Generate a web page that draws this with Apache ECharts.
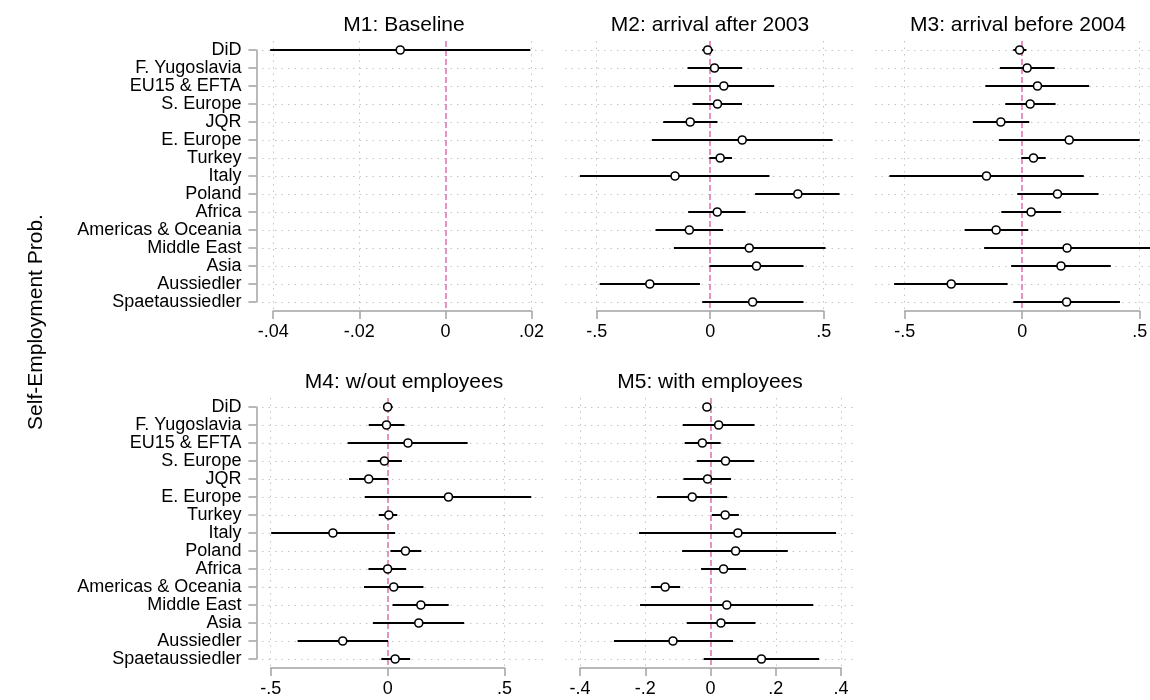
<!DOCTYPE html>
<html>
<head>
<meta charset="utf-8">
<script src="https://cdn.jsdelivr.net/npm/echarts@6/dist/echarts.min.js"></script>
<style>
  html, body { margin: 0; padding: 0; background: #fff; }
  #chart { width: 1150px; height: 700px; }
</style>
</head>
<body>
<div id="chart"></div>
<script>
// Origin groups, top to bottom
const categories = ['DiD', 'F. Yugoslavia', 'EU15 & EFTA', 'S. Europe', 'JQR', 'E. Europe', 'Turkey',
  'Italy', 'Poland', 'Africa', 'Americas & Oceania', 'Middle East', 'Asia', 'Aussiedler', 'Spaetaussiedler'];

// M1: Baseline (only the DiD term)
const m1Est = [-0.0105, null, null, null, null, null, null, null, null, null, null, null, null, null, null];
const m1Lo  = [-0.0407, null, null, null, null, null, null, null, null, null, null, null, null, null, null];
const m1Hi  = [ 0.0197, null, null, null, null, null, null, null, null, null, null, null, null, null, null];

// M2: arrival after 2003
const m2Est = [-0.011, 0.019, 0.060, 0.032, -0.088, 0.141, 0.044, -0.155, 0.386, 0.031, -0.092, 0.172, 0.204, -0.266, 0.187];
const m2Lo  = [-0.035, -0.100, -0.160, -0.078, -0.207, -0.257, -0.004, -0.574, 0.198, -0.097, -0.241, -0.160, -0.003, -0.487, -0.035];
const m2Hi  = [ 0.013, 0.141, 0.282, 0.140, 0.032, 0.539, 0.096, 0.261, 0.570, 0.156, 0.057, 0.508, 0.411, -0.045, 0.411];

// M3: arrival before 2004
const m3Est = [-0.011, 0.021, 0.065, 0.034, -0.091, 0.200, 0.048, -0.152, 0.150, 0.038, -0.111, 0.191, 0.165, -0.302, 0.189];
const m3Lo  = [-0.038, -0.095, -0.157, -0.072, -0.210, -0.099, -0.004, -0.565, -0.021, -0.089, -0.245, -0.162, -0.047, -0.545, -0.038];
const m3Hi  = [ 0.018, 0.138, 0.285, 0.142, 0.030, 0.500, 0.100, 0.262, 0.325, 0.166, 0.026, 0.570, 0.377, -0.062, 0.416];

// M4: w/out employees
const m4Est = [0.000, -0.005, 0.087, -0.014, -0.081, 0.260, 0.005, -0.234, 0.076, 0.000, 0.026, 0.142, 0.133, -0.192, 0.032];
const m4Lo  = [-0.020, -0.081, -0.171, -0.086, -0.165, -0.098, -0.038, -0.498, 0.012, -0.082, -0.101, 0.021, -0.063, -0.385, -0.027];
const m4Hi  = [ 0.021, 0.072, 0.342, 0.061, 0.002, 0.614, 0.041, 0.032, 0.144, 0.079, 0.153, 0.261, 0.327, 0.002, 0.096];

// M5: with employees
const m5Est = [-0.011, 0.025, -0.025, 0.046, -0.009, -0.056, 0.045, 0.084, 0.077, 0.040, -0.139, 0.050, 0.032, -0.115, 0.156];
const m5Lo  = [-0.022, -0.085, -0.079, -0.042, -0.083, -0.164, 0.004, -0.219, -0.087, -0.029, -0.182, -0.216, -0.073, -0.296, -0.021];
const m5Hi  = [ 0.000, 0.135, 0.031, 0.134, 0.063, 0.051, 0.087, 0.385, 0.237, 0.109, -0.093, 0.315, 0.138, 0.069, 0.333];

// Axis tick values per panel
const m1Ticks = [-0.04, -0.02, 0, 0.02];
const m2Ticks = [-0.5, 0, 0.5];
const m3Ticks = [-0.5, 0, 0.5];
const m4Ticks = [-0.5, 0, 0.5];
const m5Ticks = [-0.4, -0.2, 0, 0.2, 0.4];

const panelTitles = ['M1: Baseline', 'M2: arrival after 2003', 'M3: arrival before 2004',
  'M4: w/out employees', 'M5: with employees'];
const yTitle = 'Self-Employment Prob.';

// ---- styling / layout ----
const FONT = "'Liberation Sans', Arial, Helvetica, sans-serif";
const AXIS_GREY = '#a3a3a3';
const GRID_GREY = '#c4c4c4';
const PINK = '#dc6fa9';
const Y_AXIS_X = 256.4;

const rowLayout = [{ first: 50, step: 18 }, { first: 407, step: 18 }];

const panels = [
  { title: panelTitles[0], est: m1Est, lo: m1Lo, hi: m1Hi, ticks: m1Ticks, region: [262, 546], tickPx: [273.2, 531.6], row: 0, yLabels: true },
  { title: panelTitles[1], est: m2Est, lo: m2Lo, hi: m2Hi, ticks: m2Ticks, region: [565, 855], tickPx: [596.7, 823.7], row: 0, yLabels: false },
  { title: panelTitles[2], est: m3Est, lo: m3Lo, hi: m3Hi, ticks: m3Ticks, region: [875, 1165], tickPx: [904.7, 1139.7], row: 0, yLabels: false },
  { title: panelTitles[3], est: m4Est, lo: m4Lo, hi: m4Hi, ticks: m4Ticks, region: [262, 546], tickPx: [270.7, 504.6], row: 1, yLabels: true },
  { title: panelTitles[4], est: m5Est, lo: m5Lo, hi: m5Hi, ticks: m5Ticks, region: [565, 855], tickPx: [580, 841], row: 1, yLabels: false }
];

function stataLabel(v) {
  const r = Math.round(v * 1e6) / 1e6;
  if (r === 0) return '0';
  const s = String(Math.abs(r)).replace(/^0\./, '.');
  return (r < 0 ? '-' : '') + s;
}

function renderCI(params, api) {
  const a = api.coord([api.value(0), api.value(2)]);
  const b = api.coord([api.value(1), api.value(2)]);
  return {
    type: 'line',
    shape: { x1: a[0], y1: a[1], x2: b[0], y2: b[1] },
    style: { stroke: '#000', lineWidth: 2 }
  };
}

const grid = [], xAxis = [], yAxis = [], series = [], graphic = [];
const n = categories.length;
const rowIdx = categories.map((c, i) => i);

panels.forEach((p, k) => {
  const rl = rowLayout[p.row];
  const rowsTop = rl.first;
  const rowsBottom = rl.first + rl.step * (n - 1);
  const regTop = rowsTop - rl.step / 2;
  const regBottom = rowsBottom + rl.step / 2;
  const tLo = p.ticks[0], tHi = p.ticks[p.ticks.length - 1];
  const pxPerUnit = (p.tickPx[1] - p.tickPx[0]) / (tHi - tLo);
  const xmin = tLo - (p.tickPx[0] - p.region[0]) / pxPerUnit;
  const xmax = tHi + (p.region[1] - p.tickPx[1]) / pxPerUnit;
  const dataIdx = 2 * k, frameIdx = 2 * k + 1;

  // plot region grid (data lives here)
  grid.push({ left: p.region[0], top: regTop, width: p.region[1] - p.region[0], height: regBottom - regTop,
    containLabel: false, outerBoundsMode: 'none' });
  // axis frame grid (ticks span first to last tick / first to last row)
  grid.push({ left: p.tickPx[0], top: rowsTop, width: p.tickPx[1] - p.tickPx[0], height: rowsBottom - rowsTop,
    containLabel: false, outerBoundsMode: 'none' });

  xAxis.push({ gridIndex: dataIdx, type: 'value', min: xmin, max: xmax, show: false });
  yAxis.push({ gridIndex: dataIdx, type: 'value', min: -0.5, max: n - 0.5, inverse: true, show: false });

  xAxis.push({
    gridIndex: frameIdx, type: 'value', min: tLo, max: tHi, interval: p.ticks[1] - p.ticks[0],
    position: 'bottom', offset: rl.step / 2,
    axisLine: { show: true, onZero: false, lineStyle: { color: AXIS_GREY, width: 1.5 } },
    axisTick: { show: true, length: 8, lineStyle: { color: AXIS_GREY, width: 1.5 } },
    axisLabel: { show: true, fontSize: 18, color: '#000', fontFamily: FONT, margin: 12, formatter: stataLabel,
      showMinLabel: true, showMaxLabel: true },
    splitLine: { show: false }
  });
  yAxis.push({
    gridIndex: frameIdx, type: 'category', data: categories, inverse: true, boundaryGap: false,
    show: p.yLabels, position: 'left', offset: p.tickPx[0] - Y_AXIS_X,
    axisLine: { show: true, onZero: false, lineStyle: { color: AXIS_GREY, width: 1.5 } },
    axisTick: { show: true, length: 8, lineStyle: { color: AXIS_GREY, width: 1.5 } },
    axisLabel: { show: true, interval: 0, fontSize: 18, color: '#000', fontFamily: FONT, margin: 15 },
    splitLine: { show: false }
  });

  const dotted = { color: GRID_GREY, width: 1, type: [1.5, 5] };
  // dotted row and tick grid lines
  series.push({
    type: 'scatter', xAxisIndex: dataIdx, yAxisIndex: dataIdx, data: [], silent: true, z: 1,
    markLine: {
      z: 1, silent: true, symbol: ['none', 'none'], label: { show: false }, animation: false,
      data: rowIdx.map(i => ({ yAxis: i, lineStyle: dotted }))
        .concat(p.ticks.filter(t => t !== 0).map(t => ({ xAxis: t, lineStyle: dotted })))
    }
  });
  // reference line at zero
  series.push({
    type: 'scatter', xAxisIndex: dataIdx, yAxisIndex: dataIdx, data: [], silent: true, z: 2,
    markLine: {
      z: 2, silent: true, symbol: ['none', 'none'], label: { show: false }, animation: false,
      data: [{ xAxis: 0, lineStyle: { color: PINK, width: 1.5, type: [6, 3] } }]
    }
  });
  // confidence intervals
  const ci = [];
  const pts = [];
  p.est.forEach((v, i) => {
    if (v == null) return;
    ci.push([p.lo[i], p.hi[i], i]);
    pts.push([v, i]);
  });
  series.push({
    type: 'custom', xAxisIndex: dataIdx, yAxisIndex: dataIdx, clip: true, z: 6, silent: true,
    renderItem: renderCI, data: ci
  });
  // point estimates
  series.push({
    type: 'scatter', xAxisIndex: dataIdx, yAxisIndex: dataIdx, z: 7, silent: true,
    symbol: 'circle', symbolSize: 8,
    itemStyle: { color: '#fff', borderColor: '#000', borderWidth: 1.6, opacity: 1 },
    data: pts
  });

  // panel title
  graphic.push({
    type: 'text', x: (p.region[0] + p.region[1]) / 2 - (k === 2 ? 2 : 0), y: p.row === 0 ? 25 : 382,
    style: { text: p.title, fill: '#000', font: '21px ' + FONT, align: 'center', verticalAlign: 'middle' }
  });
});

graphic.push({
  type: 'text', x: 36, y: 322, rotation: Math.PI / 2,
  style: { text: yTitle, fill: '#000', font: '21px ' + FONT, align: 'center', verticalAlign: 'middle' }
});

const chart = echarts.init(document.getElementById('chart'), null, { renderer: 'canvas' });
chart.setOption({
  animation: false,
  backgroundColor: '#fff',
  textStyle: { fontFamily: FONT },
  grid, xAxis, yAxis, series, graphic
});
</script>
</body>
</html>
